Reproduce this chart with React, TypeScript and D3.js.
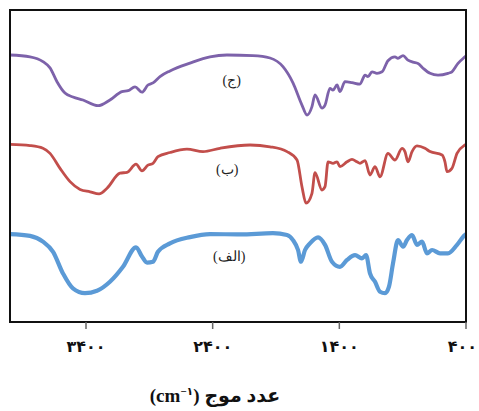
import React from 'react';
import * as d3 from 'd3';

// wavenumber (cm-1) and relative transmittance
const wavenumbers = {
  c: [4000, 3842, 3740, 3684, 3629, 3566, 3503, 3424, 3305, 3211, 3116, 3068, 3013, 2958, 2911, 2871, 2816, 2737, 2579, 2421, 2287, 2082, 1947, 1845, 1766, 1695, 1655, 1616, 1592, 1537, 1513, 1474, 1450, 1418, 1395, 1355, 1300, 1237, 1197, 1174, 1142, 1103, 1063, 1016, 961, 937, 897, 858, 818, 779, 739, 684, 621, 542, 511, 463, 408, 400],
  b: [4000, 3842, 3740, 3684, 3605, 3526, 3447, 3368, 3297, 3234, 3132, 3076, 3005, 2958, 2911, 2871, 2832, 2737, 2603, 2476, 2342, 2105, 1947, 1813, 1734, 1695, 1663, 1616, 1592, 1537, 1513, 1489, 1450, 1418, 1395, 1339, 1300, 1261, 1237, 1197, 1158, 1118, 1079, 1016, 961, 905, 882, 858, 826, 787, 724, 684, 589, 566, 550, 511, 471, 408, 400],
  a: [4000, 3842, 3740, 3660, 3582, 3503, 3408, 3313, 3211, 3108, 3005, 2958, 2918, 2871, 2832, 2737, 2579, 2421, 2184, 1924, 1813, 1766, 1726, 1703, 1671, 1632, 1568, 1513, 1458, 1395, 1339, 1276, 1221, 1189, 1158, 1118, 1079, 1039, 1008, 976, 937, 897, 866, 826, 787, 747, 708, 668, 605, 542, 471, 408, 400],
};

const seriesC = [89.0, 88.4, 86.8, 84.7, 80.1, 76.3, 75.0, 74.0, 72.1, 74.0, 76.8, 77.1, 78.4, 76.6, 79.0, 79.7, 81.8, 83.7, 86.3, 88.4, 89.0, 88.8, 88.0, 85.1, 79.7, 72.3, 69.0, 71.8, 75.7, 71.3, 72.3, 77.9, 77.3, 79.0, 76.8, 80.1, 79.8, 79.3, 82.3, 81.8, 83.4, 82.9, 83.4, 87.1, 88.4, 87.9, 88.8, 87.3, 86.6, 86.2, 84.6, 82.9, 82.3, 82.9, 83.4, 86.2, 88.4, 88.7];
const seriesB = [59.2, 58.8, 57.9, 56.2, 51.2, 46.8, 44.2, 43.4, 42.7, 44.6, 49.6, 49.9, 52.6, 50.4, 52.3, 52.9, 55.1, 56.5, 57.6, 56.8, 57.9, 59.0, 58.4, 56.8, 54.0, 45.1, 39.6, 42.9, 49.8, 44.0, 45.1, 53.4, 52.9, 53.4, 51.8, 53.4, 54.2, 53.4, 52.9, 53.8, 49.0, 51.8, 48.4, 56.2, 54.0, 57.9, 56.8, 53.4, 56.8, 58.7, 57.9, 56.8, 55.7, 53.4, 50.1, 51.2, 56.2, 59.0, 59.2];
const seriesA = [29.3, 28.7, 26.8, 23.4, 16.2, 11.2, 9.6, 10.4, 13.4, 18.4, 24.9, 21.8, 19.8, 20.1, 23.4, 26.2, 28.3, 29.3, 29.2, 29.6, 29.0, 27.3, 24.0, 20.1, 24.0, 26.2, 28.2, 25.7, 20.1, 18.4, 20.7, 22.3, 21.2, 22.3, 16.2, 13.4, 10.1, 9.6, 11.8, 19.6, 27.3, 25.1, 27.3, 29.0, 25.7, 26.8, 22.9, 24.0, 22.9, 22.9, 25.7, 29.0, 29.2];

const seriesLabels = ['(ج)', '(ب)', '(الف)'];
const tickValues = [3400, 2400, 1400, 400];
const tickLabels = ['۳۴۰۰', '۲۴۰۰', '۱۴۰۰', '۴۰۰'];

const App = () => {
  const width = 479;
  const height = 411;
  const left = 10, right = 466, top = 10, bottom = 322;

  const x = d3.scaleLinear().domain([4000, 400]).range([left, right]);
  const y = d3.scaleLinear().domain([0, 104]).range([bottom, top]);

  const line = d3.line<[number, number]>()
    .x(d => x(d[0]))
    .y(d => y(d[1]))
    .curve(d3.curveMonotoneX);

  const series = [
    { wn: wavenumbers.c, vals: seriesC, color: '#7d62aa', width: 2.8, label: seriesLabels[0], lx: 2250, ly: 80 },
    { wn: wavenumbers.b, vals: seriesB, color: '#c24e4b', width: 2.8, label: seriesLabels[1], lx: 2285, ly: 50.5 },
    { wn: wavenumbers.a, vals: seriesA, color: '#5b9ad6', width: 4.2, label: seriesLabels[2], lx: 2270, ly: 21.5 },
  ];

  return (
    <svg width={width} height={height} style={{ position: 'absolute', left: 0, top: 0 }}>
      <rect width={width} height={height} fill="#fff" />
      {series.map((s, i) => (
        <path
          key={i}
          d={line(s.wn.map((w, j) => [w, s.vals[j]] as [number, number])) || ''}
          fill="none"
          stroke={s.color}
          strokeWidth={s.width}
          strokeLinejoin="round"
        />
      ))}
      {series.map((s, i) => (
        <text key={'l' + i} x={x(s.lx)} y={y(s.ly)} textAnchor="middle" dominantBaseline="middle"
          fontFamily="'Liberation Serif', 'DejaVu Serif', serif" fontSize={14} fill="#222">
          {s.label}
        </text>
      ))}
      <rect x={left} y={top} width={right - left} height={bottom - top} fill="none" stroke="#111" strokeWidth={2} />
      {tickValues.map((t, i) => {
        // keep the last label inside the window
        const last = i === tickValues.length - 1;
        return (
          <g key={t}>
            <line x1={x(t)} x2={x(t)} y1={bottom} y2={bottom + 7} stroke="#666" strokeWidth={1.5} />
            <text x={last ? width - 2 : x(t)} y={352} textAnchor={last ? 'end' : 'middle'}
              fontFamily="'DejaVu Sans', sans-serif" fontWeight="bold" fontSize={16} fill="#111">
              {tickLabels[i]}
            </text>
          </g>
        );
      })}
      <text x={215} y={402} textAnchor="middle" fontFamily="'Liberation Serif', 'DejaVu Sans', serif"
        fontWeight="bold" fontSize={19} fill="#111">
        (cm<tspan fontSize={11} dy={-7}>−۱</tspan><tspan dy={7}>) عدد موج</tspan>
      </text>
    </svg>
  );
};

export default App;
